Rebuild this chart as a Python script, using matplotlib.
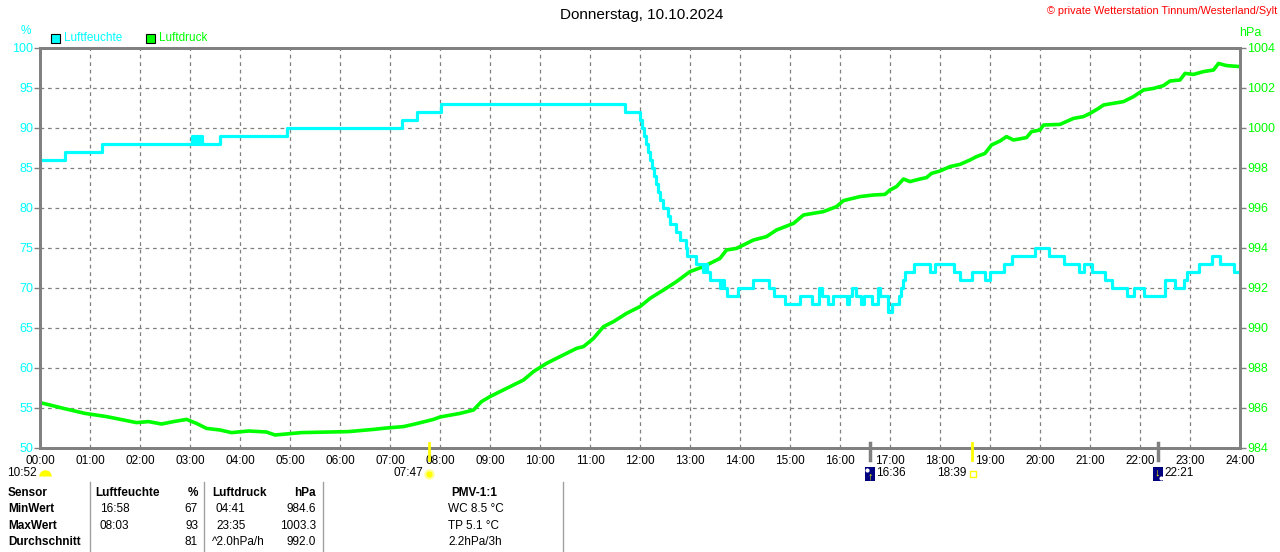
import matplotlib
matplotlib.use("Agg")
import matplotlib.pyplot as plt
from matplotlib.patches import Rectangle
from matplotlib.transforms import blended_transform_factory

plt.rcParams['font.family'] = ['Liberation Sans', 'DejaVu Sans']

# Luftfeuchte (%) as steps: hour of change, new value
hum_t = [0.00, 0.49, 1.23, 3.03, 3.07, 3.11, 3.15, 3.19, 3.23, 3.60, 4.93, 7.23, 7.53, 8.03,
         11.70, 12.00, 12.04, 12.08, 12.12, 12.16, 12.20, 12.24, 12.28, 12.32, 12.36, 12.40,
         12.46, 12.56, 12.60, 12.72, 12.80, 12.92, 12.94, 13.12, 13.26, 13.30, 13.34, 13.40,
         13.60, 13.64, 13.68, 13.74, 13.96, 14.25, 14.57, 14.67, 14.90, 15.19, 15.43, 15.57,
         15.63, 15.67, 15.75, 15.85, 16.13, 16.17, 16.23, 16.33, 16.42, 16.47, 16.63, 16.75,
         16.79, 16.95, 17.03, 17.17, 17.21, 17.25, 17.30, 17.47, 17.80, 17.90, 18.27, 18.40,
         18.63, 18.90, 19.00, 19.27, 19.43, 19.90, 20.17, 20.47, 20.77, 20.87, 21.03, 21.30,
         21.43, 21.73, 21.87, 22.07, 22.50, 22.70, 22.87, 22.93, 23.17, 23.43, 23.60, 23.88, 24.00]
hum_v = [86, 87, 88, 89, 88, 89, 88, 89, 88, 89, 90, 91, 92, 93,
         92, 91, 90, 89, 88, 87, 86, 85, 84, 83, 82, 81,
         80, 79, 78, 77, 76, 75, 74, 73, 72, 73, 72, 71,
         70, 71, 70, 69, 70, 71, 70, 69, 68, 69, 68, 70,
         69, 69, 68, 69, 68, 69, 70, 69, 68, 69, 68, 70,
         69, 67, 68, 69, 70, 71, 72, 73, 72, 73, 72, 71,
         72, 71, 72, 73, 74, 75, 74, 73, 72, 73, 72, 71,
         70, 69, 70, 69, 71, 70, 71, 72, 73, 74, 73, 72, 72]

# Luftdruck (hPa)
p_t = [0.00, 0.20, 0.47, 0.90, 1.33, 1.67, 1.93, 2.17, 2.43, 2.67, 2.93, 3.13, 3.33, 3.60,
       3.83, 4.17, 4.53, 4.70, 5.23, 6.17, 6.67, 6.93, 7.27, 7.50, 7.87, 8.00, 8.40, 8.67,
       8.83, 9.00, 9.33, 9.67, 9.87, 10.13, 10.40, 10.53, 10.73, 10.87, 11.07, 11.27, 11.47,
       11.73, 12.00, 12.20, 12.47, 12.73, 13.00, 13.27, 13.60, 13.73, 13.93, 14.27, 14.53,
       14.73, 15.07, 15.27, 15.67, 15.93, 16.07, 16.40, 16.67, 16.90, 17.00, 17.13, 17.27,
       17.40, 17.60, 17.73, 17.83, 18.00, 18.20, 18.40, 18.60, 18.73, 18.90, 19.03, 19.20,
       19.33, 19.47, 19.73, 19.83, 20.00, 20.07, 20.40, 20.67, 20.87, 21.00, 21.17, 21.27,
       21.67, 21.87, 22.07, 22.27, 22.47, 22.60, 22.80, 22.90, 23.07, 23.27, 23.47, 23.57,
       23.73, 24.00]
p_v = [986.27, 986.15, 985.98, 985.73, 985.57, 985.40, 985.27, 985.32, 985.20, 985.32, 985.43,
       985.23, 984.98, 984.90, 984.77, 984.85, 984.80, 984.65, 984.77, 984.82, 984.93, 985.00,
       985.07, 985.20, 985.43, 985.55, 985.73, 985.90, 986.32, 986.57, 986.98, 987.40, 987.82,
       988.23, 988.57, 988.73, 988.98, 989.07, 989.48, 990.07, 990.32, 990.73, 991.07, 991.48,
       991.90, 992.32, 992.82, 993.07, 993.48, 993.90, 993.98, 994.40, 994.57, 994.90, 995.23,
       995.65, 995.82, 996.07, 996.37, 996.57, 996.65, 996.68, 996.90, 997.07, 997.45, 997.32,
       997.45, 997.52, 997.73, 997.85, 998.07, 998.18, 998.40, 998.57, 998.73, 999.15, 999.35,
       999.57, 999.40, 999.52, 999.82, 999.90, 1000.15, 1000.18, 1000.48, 1000.57, 1000.73,
       1000.98, 1001.15, 1001.32, 1001.57, 1001.90, 1001.98, 1002.12, 1002.35, 1002.40,
       1002.73, 1002.68, 1002.82, 1002.90, 1003.23, 1003.12, 1003.07]

hour_labels = ["%02d:00" % h for h in range(25)]
hum_ticks = [50, 55, 60, 65, 70, 75, 80, 85, 90, 95, 100]
p_ticks = [984, 986, 988, 990, 992, 994, 996, 998, 1000, 1002, 1004]

sun_events = [7 + 47 / 60, 18 + 39 / 60]     # Aufgang, Untergang
moon_events = [16 + 36 / 60, 22 + 21 / 60]

table_rows = [
    ["Sensor", "Luftfeuchte", "%", "Luftdruck", "hPa", "PMV-1:1"],
    ["MinWert", "16:58", "67", "04:41", "984.6", "WC 8.5 °C"],
    ["MaxWert", "08:03", "93", "23:35", "1003.3", "TP 5.1 °C"],
    ["Durchschnitt", "", "81", "^2.0hPa/h", "992.0", "2.2hPa/3h"],
]

CYAN = '#00ffff'
GREEN = '#00ff00'
YELLOW = '#ffff00'
GRAY = '#808080'
W, H = 1280, 552


def fx(x):
    return x / W


def fy(y):
    return 1 - y / H


def icon(x, y, **kw):
    fig.add_artist(plt.Line2D([fx(x)], [fy(y)], ls='none', transform=fig.transFigure, **kw))


fig = plt.figure(figsize=(12.8, 5.52), dpi=100)
ax = fig.add_axes([fx(40), fy(448), 1200 / W, 400 / H])
ax2 = ax.twinx()
ax.set_zorder(ax2.get_zorder() + 1)
ax.patch.set_visible(False)

# grid + pressure (lower axes)
ax2.set_ylim(984, 1004)
ax2.set_yticks(p_ticks)
ax2.yaxis.grid(True, color=GRAY, ls=(0, (3, 3)), lw=0.9)
for h in range(1, 24):
    ax2.axvline(h, color=GRAY, ls=(0, (3, 3)), lw=0.9, zorder=0.5)
ax2.plot(p_t, p_v, color=GREEN, lw=2.6)

# humidity on top
ax.plot(hum_t, hum_v, color=CYAN, lw=2.3, drawstyle='steps-post')
ax.set_xlim(0, 24)
ax.set_ylim(50, 100)
ax.set_yticks(hum_ticks)
ax.set_xticks(range(25))
ax.set_xticklabels(hour_labels)

for a in (ax, ax2):
    for s in a.spines.values():
        s.set_color(GRAY)
        s.set_linewidth(2)
ax.tick_params(axis='x', length=0, pad=5, labelsize=8.5, colors='black')
ax.tick_params(axis='y', length=4, width=1, color=GRAY, labelcolor=CYAN, labelsize=9, pad=1)
ax2.tick_params(axis='y', length=4, width=1, color=GRAY, labelcolor=GREEN, labelsize=9, pad=1)

# sun / moon markers on the time axis
tr = blended_transform_factory(ax.transData, ax.transAxes)
for t in sun_events:
    ax.plot([t, t], [0.012, -0.03], color=YELLOW, lw=2, transform=tr, clip_on=False, zorder=5)
for t in moon_events:
    ax.plot([t, t], [0.012, -0.03], color=GRAY, lw=2.5, transform=tr, clip_on=False, zorder=5)

ty = fy(473)
fig.text(fx(37), ty, "10:52", ha='right', va='center', fontsize=8.5)
icon(45, 476, marker='o', ms=9, fillstyle='top', markerfacecolor=YELLOW,
     markerfacecoloralt='none', markeredgecolor='none')
fig.text(fx(423), ty, "07:47", ha='right', va='center', fontsize=8.5)
icon(429, 474, marker='o', ms=6, color=YELLOW, markeredgecolor='#ffff99', markeredgewidth=1.5)
fig.text(fx(876), ty, "16:36", ha='left', va='center', fontsize=8.5)
fig.patches.append(Rectangle((fx(865), fy(481)), 10 / W, 14 / H, transform=fig.transFigure,
                             facecolor='#000080', edgecolor='none'))
icon(867, 470, marker='o', ms=3, color='white', markeredgecolor='none')
fig.text(fx(870), fy(476), "\u2191", color=YELLOW, ha='center', va='center', fontsize=8,
         fontweight='bold')
fig.text(fx(966), ty, "18:39", ha='right', va='center', fontsize=8.5)
icon(973, 474, marker='s', ms=5, markerfacecolor='none', markeredgecolor=YELLOW,
     markeredgewidth=1)
fig.text(fx(1164), ty, "22:21", ha='left', va='center', fontsize=8.5)
fig.patches.append(Rectangle((fx(1153), fy(481)), 10 / W, 14 / H, transform=fig.transFigure,
                             facecolor='#000080', edgecolor='none'))
icon(1161, 478, marker='o', ms=3, color='white', markeredgecolor='none')
fig.text(fx(1157), fy(472), "\u2193", color=YELLOW, ha='center', va='center', fontsize=8,
         fontweight='bold')

# titles, units, legend
fig.text(fx(642), fy(15), "Donnerstag, 10.10.2024", ha='center', va='center', fontsize=11)
fig.text(fx(1277), fy(11), "\u00a9 private Wetterstation Tinnum/Westerland/Sylt", color='red',
         ha='right', va='center', fontsize=7.8)
fig.text(fx(26), fy(31), "%", color=CYAN, ha='center', va='center', fontsize=8.5)
fig.text(fx(1250), fy(33), "hPa", color=GREEN, ha='center', va='center', fontsize=9)
for x0, col, lab in [(51, CYAN, "Luftfeuchte"), (146, GREEN, "Luftdruck")]:
    fig.patches.append(Rectangle((fx(x0), fy(43)), 9 / W, 9 / H, transform=fig.transFigure,
                                 facecolor=col, edgecolor='black', lw=0.8))
    fig.text(fx(x0 + 13), fy(38), lab, color=col, ha='left', va='center', fontsize=8.5)

# table below
for xs in [90, 204, 323, 563]:
    fig.add_artist(plt.Line2D([fx(xs), fx(xs)], [fy(482), fy(552)], color='#a0a0a0', lw=1))
row_y = [493, 509, 526, 542]
col_x = [8, 100, 198, 216, 316, 448]
col_ha = ['left', 'left', 'right', 'left', 'right', 'left']
for r, row in enumerate(table_rows):
    for c, txt in enumerate(row):
        x = col_x[c]
        ha = col_ha[c]
        bold = (r == 0) or (c == 0)
        if r == 0 and c == 1:
            x = 95
        if r == 0 and c == 3:
            x = 212
        if r == 3 and c == 3:
            x = 212
        if r == 0 and c == 5:
            x, ha = 474, 'center'
        fig.text(fx(x), fy(row_y[r]), txt, ha=ha, va='center', fontsize=8.5,
                 fontweight='bold' if bold else 'normal')

fig.savefig("out.png", dpi=100)
